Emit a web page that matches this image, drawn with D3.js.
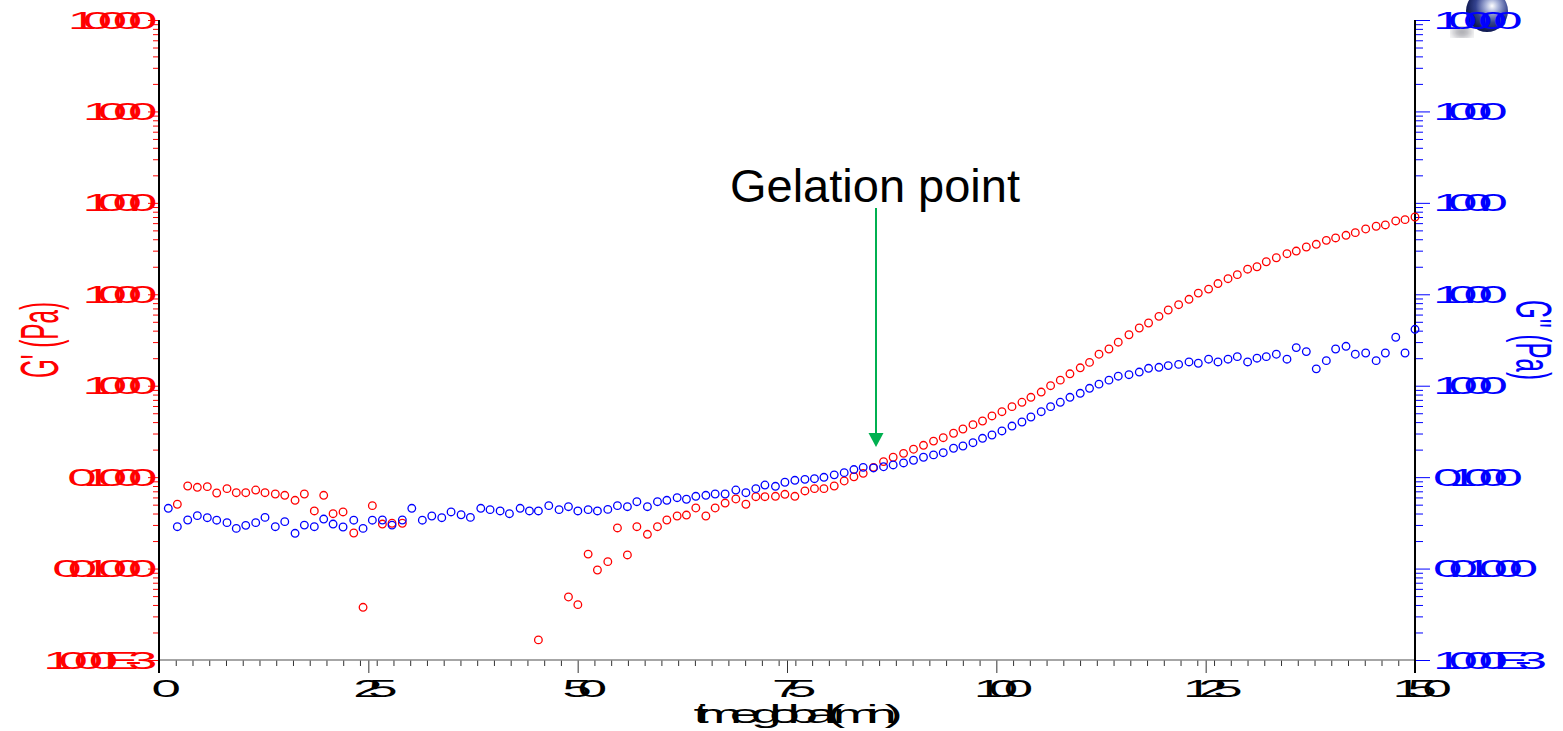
<!doctype html>
<html lang="en">
<head>
<meta charset="utf-8">
<title>G' G'' vs time</title>
<script src="https://cdn.jsdelivr.net/npm/d3@7/dist/d3.min.js"></script>
<style>
  body{margin:0;background:#fff;}
  svg text{font-family:"Liberation Sans",Arial,sans-serif;}
  .tick-lbl{font-size:24px;letter-spacing:-6.5px;}
  .x-title{font-size:25px;letter-spacing:-5.6px;}
</style>
</head>
<body>
<svg width="1563" height="731"></svg>
<script>
// time global (min)
const time = [
  1.11,2.19,3.43,4.58,5.77,6.89,8.12,9.23,10.36,11.55,
  12.66,13.89,15.02,16.25,17.36,18.55,19.67,20.79,21.98,23.26,
  24.37,25.48,26.68,27.83,29.06,30.19,31.45,32.58,33.77,34.88,
  36.08,37.19,38.43,39.54,40.74,41.85,43.13,44.24,45.31,46.55,
  47.78,48.90,50.02,51.25,52.36,53.60,54.75,55.94,57.07,58.33,
  59.53,60.65,61.88,62.99,64.11,65.31,66.42,67.61,68.89,70.09,
  71.28,72.36,73.62,74.75,75.94,77.14,78.28,79.41,80.64,81.83,
  82.99,84.10,85.33,86.53,87.68,88.92,90.11,91.30,92.50,93.66,
  94.89,96.01,97.21,98.35,99.48,100.67,101.87,103.06,104.13,105.36,
  106.48,107.64,108.79,110.02,111.13,112.26,113.45,114.56,115.84,117.07,
  118.18,119.42,120.53,121.77,123.01,124.12,125.35,126.47,127.67,128.78,
  130.01,131.13,132.24,133.44,134.71,135.82,137.02,138.21,139.41,140.52,
  141.76,142.87,144.11,145.36,146.46,147.70,148.81,150.0
];

// G' (Pa), null = not plotted
const gPrime = [
  null,0.0505,0.0800,0.0774,0.0787,0.0671,0.0748,0.0676,0.0676,0.0723,
  0.0676,0.0654,0.0633,0.0558,0.0654,0.0427,0.0633,0.0398,0.0416,0.0245,
  0.00377,0.0488,0.0307,0.0313,0.0313,null,null,null,null,null,
  null,null,null,null,null,null,null,null,0.00166,null,
  null,0.00489,0.00403,0.0144,0.00965,0.0119,0.0278,0.0141,0.0287,0.0237,
  0.0287,0.0340,0.0376,0.0385,0.0460,0.0376,0.0460,0.0521,0.0577,0.0505,
  0.0611,0.0611,0.0617,0.0649,0.0617,0.0706,0.0748,0.0748,0.0800,0.0908,
  0.101,0.110,0.128,0.148,0.165,0.182,0.202,0.223,0.248,0.270,
  0.302,0.336,0.375,0.411,0.467,0.520,0.590,0.659,0.747,0.853,
  1.00,1.15,1.35,1.57,1.80,2.21,2.52,2.99,3.61,4.28,
  4.85,5.74,6.73,7.69,8.81,10.3,11.4,13.1,14.8,16.4,
  18.8,20.0,22.7,25.1,27.8,29.7,32.9,35.2,38.9,41.3,
  44.2,47.2,51.8,55.5,57.3,63.4,65.5,70.0
];

// G'' (Pa)
const gDouble = [
  0.0456,0.0287,0.0340,0.0379,0.0360,0.0338,0.0318,0.0275,0.0297,0.0318,
  0.0363,0.0287,0.0326,0.0243,0.0299,0.0287,0.0348,0.0307,0.0285,0.0338,
  0.0275,0.0338,0.0340,0.0299,0.0340,0.0456,0.0338,0.0376,0.0360,0.0416,
  0.0388,0.0363,0.0456,0.0441,0.0427,0.0398,0.0456,0.0427,0.0427,0.0488,
  0.0441,0.0475,0.0427,0.0441,0.0427,0.0444,0.0488,0.0475,0.0539,0.0475,
  0.0539,0.0558,0.0596,0.0573,0.0617,0.0633,0.0654,0.0654,0.0723,0.0676,
  0.0748,0.0820,0.0794,0.0879,0.0924,0.0946,0.0962,0.0996,0.106,0.112,
  0.121,0.128,0.126,0.130,0.136,0.143,0.153,0.165,0.175,0.185,
  0.207,0.219,0.238,0.266,0.289,0.320,0.362,0.401,0.455,0.520,
  0.590,0.659,0.747,0.826,0.937,1.04,1.15,1.27,1.32,1.41,
  1.55,1.59,1.66,1.71,1.82,1.76,1.95,1.82,1.95,2.08,
  1.82,2.00,2.08,2.21,1.95,2.61,2.36,1.53,1.88,2.52,
  2.70,2.21,2.28,1.88,2.28,3.39,2.28,4.14
];

const yTickValues = [1e-3,1e-2,1e-1,1,10,100,1000,10000];
const yTickLabels = ["1.000E-3","0.01000","0.1000","1.000","10.00","100.0","1000","10000"];
const xTickValues = [0,25,50,75,100,125,150];
const xTickLabels = ["0","25","50","75","100","125","150"];

const svg = d3.select("svg");
const plotL = 159, plotR = 1415, plotT = 20, plotB = 660;

const xScale = d3.scaleLinear().domain([0,150]).range([plotL,plotR]);
const yScale = d3.scaleLog().domain([1e-3,1e4]).range([plotB,plotT]);

// blue ball in the corner
const defs = svg.append("defs");
const grad = defs.append("radialGradient").attr("id","ball")
  .attr("cx","62%").attr("cy","38%").attr("r","60%");
grad.append("stop").attr("offset","0%").attr("stop-color","#ffffff");
grad.append("stop").attr("offset","25%").attr("stop-color","#aab4da");
grad.append("stop").attr("offset","65%").attr("stop-color","#34438f");
grad.append("stop").attr("offset","100%").attr("stop-color","#121c55");
defs.append("filter").attr("id","blur").append("feGaussianBlur").attr("stdDeviation",4);
svg.append("ellipse").attr("cx",1462).attr("cy",32).attr("rx",10).attr("ry",5)
  .attr("fill","#223").attr("opacity",0.5).attr("filter","url(#blur)");
svg.append("circle").attr("cx",1487).attr("cy",11).attr("r",21).attr("fill","url(#ball)");

// minor / major ticks
const yMinor = yScale.ticks().filter(d => !yTickValues.some(v => Math.abs(v-d)/v < 1e-6));
const xMinor = xScale.ticks(60).filter(d => d % 25 !== 0);

const gLeft = svg.append("g").attr("transform",`translate(${plotL},0)`);
gLeft.call(d3.axisLeft(yScale).tickValues(yMinor).tickSize(6).tickFormat(""));
gLeft.append("g").call(d3.axisLeft(yScale).tickValues(yTickValues).tickSize(11).tickFormat(""));
gLeft.selectAll(".domain").remove();
gLeft.selectAll("line").attr("stroke","#ff0000").attr("stroke-width",1);

const gRight = svg.append("g").attr("transform",`translate(${plotR},0)`);
gRight.call(d3.axisRight(yScale).tickValues(yMinor).tickSize(8).tickFormat(""));
gRight.append("g").call(d3.axisRight(yScale).tickValues(yTickValues).tickSize(15).tickFormat(""));
gRight.selectAll(".domain").remove();
gRight.selectAll("line").attr("stroke","#0000ff").attr("stroke-width",1);

const gBottom = svg.append("g").attr("transform",`translate(0,${plotB})`);
gBottom.call(d3.axisBottom(xScale).tickValues(xMinor).tickSize(6).tickFormat(""));
gBottom.append("g").call(d3.axisBottom(xScale).tickValues(xTickValues).tickSize(13).tickFormat(""));
gBottom.selectAll(".domain").remove();
gBottom.selectAll("line").attr("stroke","#333").attr("stroke-width",1);

svg.append("line").attr("x1",plotL).attr("x2",plotR).attr("y1",plotB).attr("y2",plotB)
  .attr("stroke","#888").attr("stroke-width",1.5);
svg.append("line").attr("x1",plotL).attr("x2",plotL).attr("y1",plotT).attr("y2",plotB+13)
  .attr("stroke","#000").attr("stroke-width",2);
svg.append("line").attr("x1",plotR).attr("x2",plotR).attr("y1",plotT).attr("y2",plotB+13)
  .attr("stroke","#000").attr("stroke-width",2);

// tick labels (wide, tightly packed glyphs)
svg.append("g").selectAll("text").data(yTickValues).enter().append("text")
  .attr("class","tick-lbl").attr("text-anchor","end").attr("fill","#ff0000")
  .attr("transform",d => `translate(143,${yScale(d)+8.5}) scale(2.2,1)`)
  .text((d,i) => yTickLabels[i]);
svg.append("g").selectAll("text").data(yTickValues).enter().append("text")
  .attr("class","tick-lbl").attr("text-anchor","start").attr("fill","#0000ff")
  .attr("transform",d => `translate(1433,${yScale(d)+8.5}) scale(2.2,1)`)
  .text((d,i) => yTickLabels[i]);
svg.append("g").selectAll("text").data(xTickValues).enter().append("text")
  .attr("class","tick-lbl").attr("text-anchor","middle").attr("fill","#000")
  .attr("transform",d => `translate(${xScale(d)},697) scale(2.2,1)`)
  .text((d,i) => xTickLabels[i]);

// axis titles
svg.append("text").attr("class","x-title").attr("text-anchor","middle")
  .attr("transform","translate(792,723) scale(2.2,1)").attr("fill","#000")
  .text("time global (min)");
svg.append("text").attr("text-anchor","middle").attr("fill","#ff0000")
  .style("font-size","54px")
  .attr("transform","translate(58,340) rotate(-90) scale(0.45,1)")
  .text("G' (Pa)");
svg.append("text").attr("text-anchor","middle").attr("fill","#0000ff")
  .style("font-size","50px")
  .attr("transform","translate(1516,340) rotate(90) scale(0.48,1)")
  .text("G'' (Pa)");

// points
const pts = svg.append("g");
pts.selectAll(".gp").data(time.map((t,i) => [t,gPrime[i]]).filter(d => d[1] != null))
  .enter().append("circle").attr("class","gp")
  .attr("cx",d => xScale(d[0])).attr("cy",d => yScale(d[1])).attr("r",3.8)
  .attr("fill","none").attr("stroke","#ff0000").attr("stroke-width",1.3);
pts.selectAll(".gpp").data(time.map((t,i) => [t,gDouble[i]]))
  .enter().append("circle").attr("class","gpp")
  .attr("cx",d => xScale(d[0])).attr("cy",d => yScale(d[1])).attr("r",3.8)
  .attr("fill","none").attr("stroke","#0000ff").attr("stroke-width",1.3);

// gelation point annotation
svg.append("text").attr("x",875).attr("y",202).attr("text-anchor","middle")
  .style("font-size","47px").attr("fill","#000").text("Gelation point");
svg.append("line").attr("x1",876).attr("x2",876).attr("y1",208).attr("y2",436)
  .attr("stroke","#00b050").attr("stroke-width",2);
svg.append("path").attr("d","M868.5,433 L883.5,433 L876,447 Z").attr("fill","#00b050");
</script>
</body>
</html>
